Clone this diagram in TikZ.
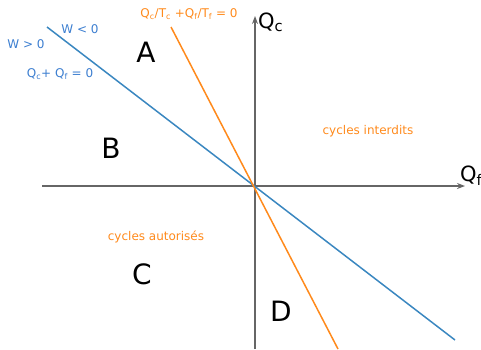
\documentclass[tikz,border=0pt]{standalone}
\usepackage{fontspec}
\setmainfont{DejaVu Sans}
\usetikzlibrary{arrows.meta}
\definecolor{lineblue}{HTML}{3A87C0}
\definecolor{textblue}{HTML}{3C7ED0}
\definecolor{lineorange}{HTML}{FF8A1C}
\definecolor{axisgray}{HTML}{666666}

\begin{document}
\begin{tikzpicture}[x=1pt, y=-1pt,
  small/.style={font=\fontsize{12}{14}\selectfont},
  region/.style={font=\fontsize{28}{30}\selectfont},
  axislabel/.style={font=\fontsize{21}{24}\selectfont}]
  \useasboundingbox (0,0) rectangle (481,349);
  % axes
  \coordinate (O) at (255,186);
  \coordinate (xl) at (42,186);
  \coordinate (xr) at (465,186);
  \coordinate (yb) at (255,349);
  \coordinate (yt) at (255,16);
  \draw[axisgray, line width=1.3pt, -{Stealth[length=8pt,width=6pt]}] (xl) -- (xr);
  \draw[axisgray, line width=1.3pt, -{Stealth[length=8pt,width=6pt]}] (yb) -- (yt);
  \node[axislabel, anchor=west, inner sep=1pt] (qc) at (257,22) {Q\textsubscript{c}};
  \node[axislabel, anchor=west, inner sep=1pt] (qf) at (459,176) {Q\textsubscript{f}};
  % W = 0
  \coordinate (b1) at (47,27);
  \coordinate (b2) at (455,340);
  \draw[lineblue, line width=1.5pt] (b1) -- (b2);
  % Carnot
  \coordinate (o1) at (171,27);
  \coordinate (o2) at (338,349);
  \draw[lineorange, line width=1.5pt] (o1) -- (o2);
  % labels
  \node[small, textblue] (wneg) at (80,29) {W < 0};
  \node[small, textblue] (wpos) at (26,44) {W > 0};
  \node[small, textblue] (eqw) at (60,74) {Q\textsubscript{c}+ Q\textsubscript{f} = 0};
  \node[small, lineorange] (eqs) at (189,14) {Q\textsubscript{c}/T\textsubscript{c} +Q\textsubscript{f}/T\textsubscript{f} = 0};
  \node[small, lineorange] (forb) at (368,131) {cycles interdits};
  \node[small, lineorange] (allow) at (156,237) {cycles autorisés};
  \node[region] (A) at (146,52) {A};
  \node[region] (B) at (111,148) {B};
  \node[region] (C) at (142,274) {C};
  \node[region] (D) at (281,311) {D};
\end{tikzpicture}
\end{document}
